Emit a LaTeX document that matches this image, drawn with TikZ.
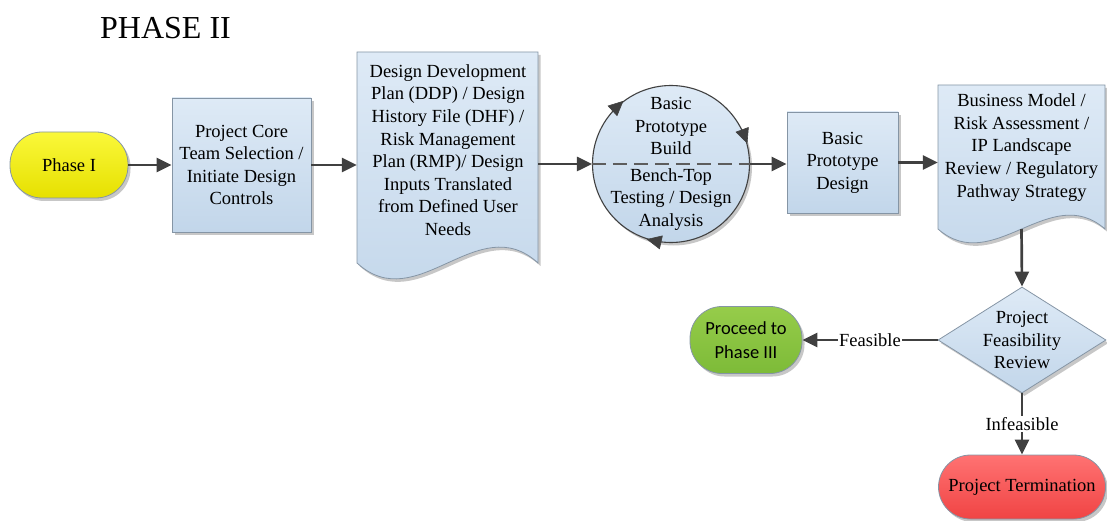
\documentclass[tikz,border=0pt]{standalone}
\usepackage{fontspec}
\setmainfont{Liberation Serif}
\newfontfamily\calfont{Carlito}
\usetikzlibrary{arrows.meta,shapes.geometric,shadows}
\definecolor{boxtop}{HTML}{DEEAF6}
\definecolor{boxbot}{HTML}{C2D6EA}
\definecolor{edgegray}{HTML}{8595A5}
\definecolor{arr}{HTML}{404040}
\definecolor{yeltop}{HTML}{FAF83A}
\definecolor{yelbot}{HTML}{E6E000}
\definecolor{grntop}{HTML}{96CC4A}
\definecolor{grnbot}{HTML}{7DBB38}
\definecolor{redtop}{HTML}{FF7272}
\definecolor{redbot}{HTML}{F04444}
\begin{document}
\begin{tikzpicture}[x=1pt,y=-1pt,
  font=\fontsize{18.5}{22.6}\selectfont,
  shad/.style={drop shadow={shadow xshift=2.5pt,shadow yshift=-3pt,opacity=0.22,fill=black}},
  bluefill/.style={draw=edgegray, line width=0.8pt, top color=boxtop, bottom color=boxbot},
  procbox/.style={bluefill, shad, rectangle, align=center, inner sep=0pt},
  txt/.style={align=center, inner sep=0pt},
  anchorbox/.style={rectangle, draw=none, fill=none, inner sep=0pt},
  flow/.style={draw=arr, line width=2.7pt, -{Triangle[length=15pt,width=14pt]}},
  circarrow/.style={draw=arr, line width=0.6pt, -{Triangle[length=15pt,width=14pt]}},
  lbl/.style={fill=white, inner sep=1pt, text=black},
  termnode/.style={rectangle, rounded corners=32pt, draw=edgegray, line width=0.8pt, shad, align=center, inner sep=0pt}
]
\useasboundingbox (0,0) rectangle (1107,521);

% title
\node[anchor=base west, inner sep=0pt, font=\fontsize{32}{38}\selectfont] (title) at (100,39) {PHASE II};

% Phase I terminal
\node[termnode, top color=yeltop, bottom color=yelbot, minimum width=118pt, minimum height=66pt] (p1) at (69,165) {Phase I};

% Box 1
\node[procbox, minimum width=139pt, minimum height=134pt] (b1) at (241.5,165) {Project Core\\Team Selection /\\Initiate Design\\Controls};

% Document 1
\path[bluefill, shad] (357,52) -- (538,52) -- (538,263) .. controls (478,208) and (417,318) .. (357,263) -- cycle;
\node[anchorbox, minimum width=181pt, minimum height=211pt] (d1) at (447.5,157.5) {};
\node[txt] (d1t) at (448,150) {Design Development\\Plan (DDP) / Design\\History File (DHF) /\\Risk Management\\Plan (RMP)/ Design\\Inputs Translated\\from Defined User\\Needs};

% Circle
\node[circle, bluefill, shad, draw=arr, line width=1.1pt, minimum size=157pt, inner sep=0pt] (c) at (671,164) {};
\draw[draw=arr!85, line width=1.3pt, dash pattern=on 14pt off 7pt] (c.west) -- (c.east);
\node[txt] (ct) at (671,126) {Basic\\Prototype\\Build};
\node[txt] (cb) at (671,199.5) {Bench-Top\\Testing / Design\\Analysis};
\draw[circarrow] (c.138) -- (c.127);
\draw[circarrow] (c.26) -- (c.15);
\draw[circarrow] (c.263) -- (c.252);

% Box 2
\node[procbox, minimum width=111pt, minimum height=101pt] (b2) at (842.5,162.5) {Basic\\Prototype\\Design};

% Document 2
\path[bluefill, shad] (938,85) -- (1105,85) -- (1105,229) .. controls (1050,181) and (993,277) .. (938,229) -- cycle;
\node[anchorbox, minimum width=167pt, minimum height=144pt] (d2) at (1021.5,157) {};
\node[txt] (d2t) at (1021.5,147.5) {Business Model /\\Risk Assessment /\\IP Landscape\\Review / Regulatory\\Pathway Strategy};

% Diamond
\node[diamond, bluefill, shad, minimum width=168pt, minimum height=106pt, inner sep=0pt] (dia) at (1022,340) {};
\node[txt] (diat) at (1022,340) {Project\\Feasibility\\Review};

% Proceed to Phase III
\node[termnode, top color=grntop, bottom color=grnbot, minimum width=112pt, minimum height=67pt, font=\calfont\fontsize{18.5}{24}\selectfont] (g) at (746,340) {Proceed to\\Phase III};

% Project Termination
\node[termnode, top color=redtop, bottom color=redbot, minimum width=167pt, minimum height=64pt] (r) at (1022,487) {Project Termination};

% connectors
\draw[flow] (p1.east) -- (b1.west);
\draw[flow] (b1.east) -- (b1.east -| d1.west);
\draw[flow] (c.west -| d1.east) -- (c.west);
\draw[flow] (c.east) -- (c.east -| b2.west);
\draw[flow] (b2.east) -- (b2.east -| d2.west);
\draw[flow] (d2.south) -- (dia.north);
\draw[flow] (dia.west) -- node[lbl] (feas) {Feasible} (g.east);
\draw[flow] (dia.south) -- node[lbl] (infeas) {Infeasible} (r.north);
\end{tikzpicture}
\end{document}
